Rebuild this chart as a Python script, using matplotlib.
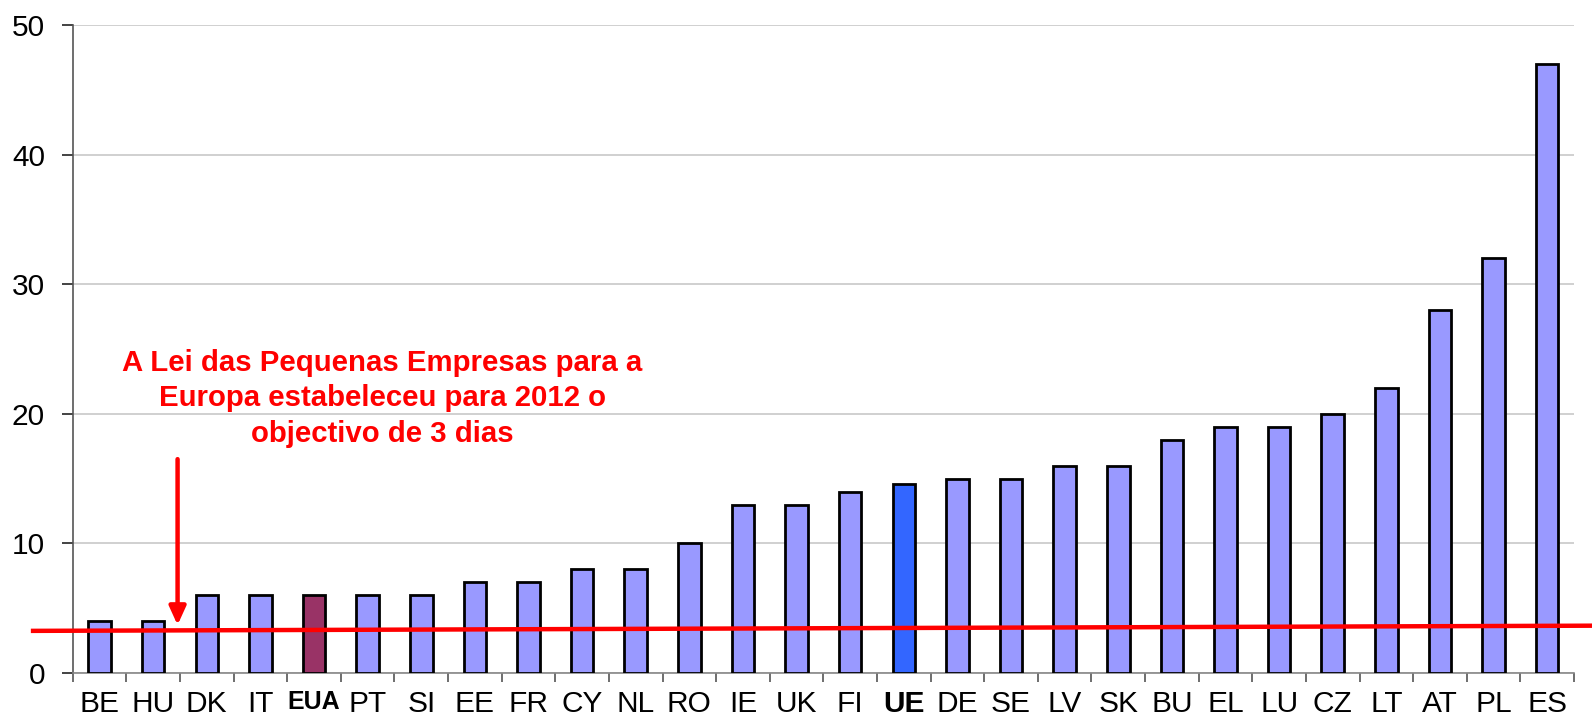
import matplotlib
matplotlib.use("Agg")
import matplotlib.pyplot as plt
from matplotlib.lines import Line2D

countries = ["BE", "HU", "DK", "IT", "EUA", "PT", "SI", "EE", "FR", "CY", "NL", "RO", "IE", "UK",
             "FI", "UE", "DE", "SE", "LV", "SK", "BU", "EL", "LU", "CZ", "LT", "AT", "PL", "ES"]
days = [4, 4, 6, 6, 6, 6, 6, 7, 7, 8, 8, 10, 13, 13,
        14, 14.6, 15, 15, 16, 16, 18, 19, 19, 20, 22, 28, 32, 47]
target_line_start = 3.25
target_line_end = 3.65
annotation = "A Lei das Pequenas Empresas para a\nEuropa estabeleceu para 2012 o\nobjectivo de 3 dias"

plt.rcParams['font.family'] = ['Liberation Sans', 'DejaVu Sans']

fig = plt.figure(figsize=(15.92, 7.2), dpi=100)
ax = fig.add_axes([0.0457, 0.0653, 0.943, 0.900])

colors = []
for c in countries:
    if c == "EUA":
        colors.append("#993366")
    elif c == "UE":
        colors.append("#3366FF")
    else:
        colors.append("#9999FF")

x = list(range(len(countries)))
ax.bar(x, days, width=0.42, color=colors, edgecolor="black", linewidth=2.0, zorder=3)

ax.set_xlim(-0.5, len(countries) - 0.5)
ax.set_ylim(0, 50)
ax.set_yticks([0, 10, 20, 30, 40, 50])
ax.yaxis.grid(True, color="#c8c8c8", linewidth=1.2, zorder=0)
ax.set_axisbelow(True)

ax.set_xticks(x)
ax.set_xticklabels(countries, fontsize=21.5)
for lbl in ax.get_xticklabels():
    if lbl.get_text() in ("EUA", "UE"):
        lbl.set_fontweight("bold")
        if lbl.get_text() == "EUA":
            lbl.set_fontsize(18)
ax.tick_params(axis="x", length=0, pad=12)
ax.set_xticks([i - 0.5 for i in range(len(countries) + 1)], minor=True)
ax.tick_params(axis="x", which="minor", length=6.5, width=1.2, color="#555555", direction="out")
ax.tick_params(axis="y", length=8, width=1.2, color="#222222", labelsize=21.5, pad=12)

for s in ["top", "right"]:
    ax.spines[s].set_visible(False)
ax.spines["left"].set_color("#555555")
ax.spines["left"].set_linewidth(1.2)
ax.spines["bottom"].set_color("#888888")
ax.spines["bottom"].set_linewidth(1.2)

# target line (extends beyond axes)
line = Line2D([-1.24, 27.85], [target_line_start, target_line_end], color="#FF0000",
              linewidth=3.2, clip_on=False, zorder=5)
ax.add_line(line)

# arrow
ax.annotate("", xy=(1.455, 3.7), xytext=(1.455, 16.5),
            arrowprops=dict(arrowstyle="-|>,head_width=0.5,head_length=1.1",
                            color="#FF0000", linewidth=3.2, shrinkA=0, shrinkB=0),
            zorder=6)

ax.text(5.27, 21.2, annotation, color="#FF0000", fontsize=21.2, fontweight="bold",
        ha="center", va="center", linespacing=1.35)

fig.savefig("out.png", dpi=100)
